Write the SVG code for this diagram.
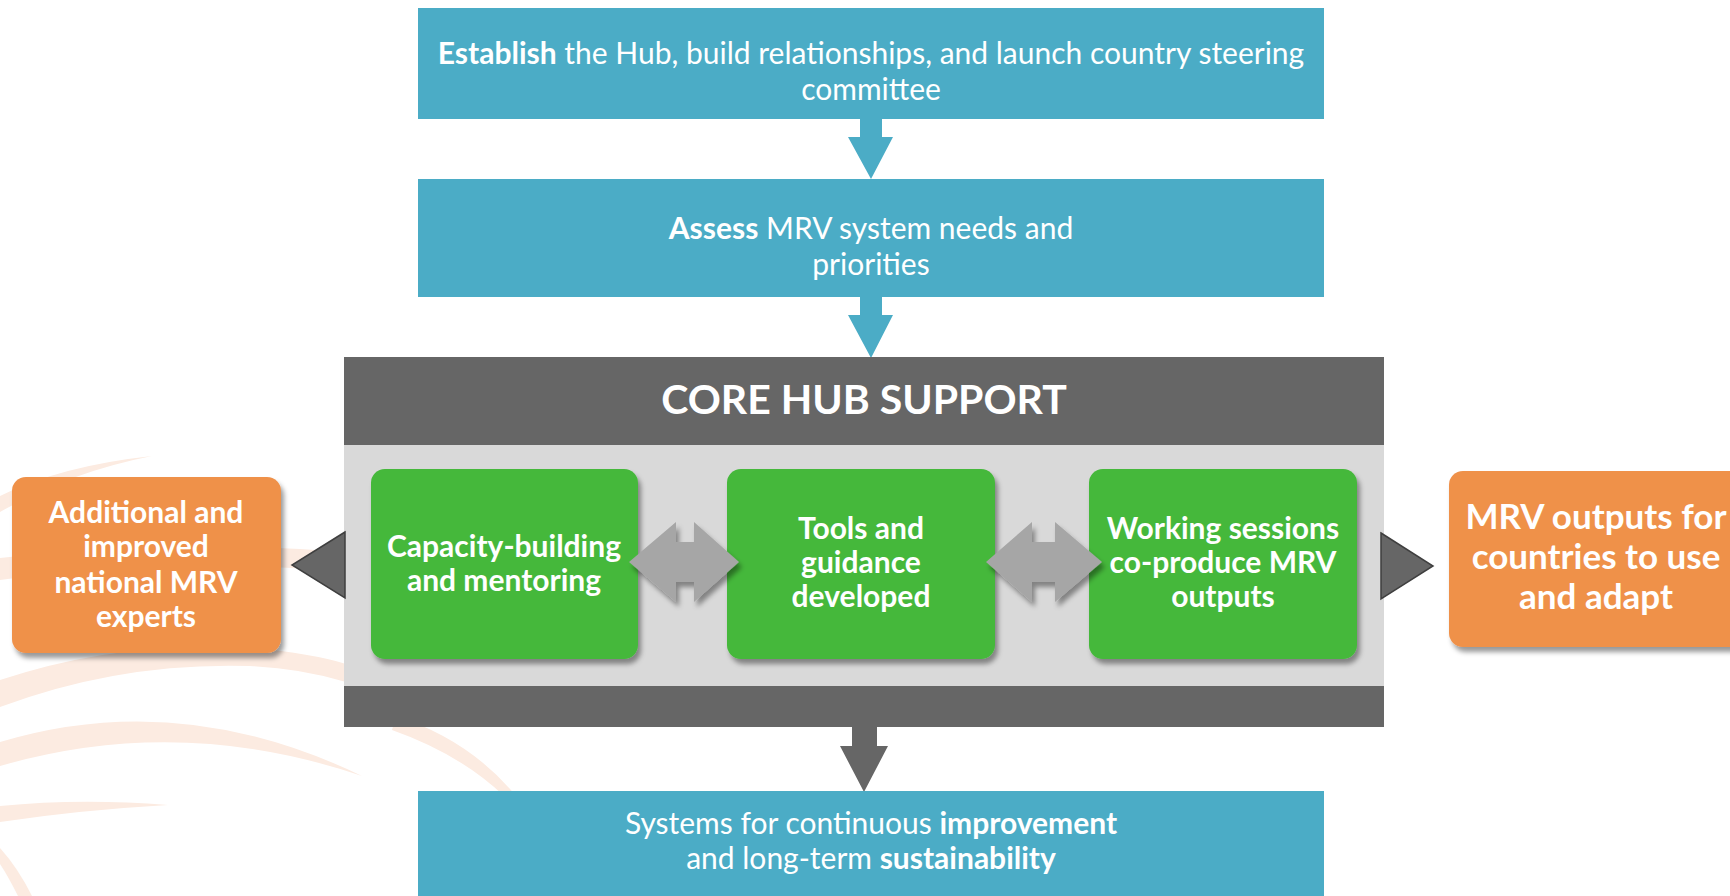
<svg xmlns="http://www.w3.org/2000/svg" width="1730" height="896" viewBox="0 0 1730 896">
<defs>
<style>
.blue{fill:#4bacc6}
.t{font-family:Lato,"Open Sans","Liberation Sans",sans-serif;fill:#fff;text-anchor:middle}
.reg{font-size:30px}
.b{font-weight:bold}
.gt{font-size:30px;font-weight:bold}
.swirl{fill:#fcebe1}
.green{fill:#44b83a}
.orange{fill:#ef914a}
.dbl{fill:#a6a6a6}
.tri{fill:#666;stroke:#3f3f3f;stroke-width:1.5}
</style>
<filter id="sh" x="-10%" y="-10%" width="125%" height="130%">
<feDropShadow dx="3" dy="5" stdDeviation="2.5" flood-color="#000" flood-opacity="0.4"/>
</filter>
</defs>
<rect width="1730" height="896" fill="#fff"/>
<g id="background-swirl">
<path class="swirl" d="M0,496 Q60,466 152,456 Q70,472 0,512 Z"/>
<path class="swirl" d="M0,558 Q170,538 346,552 L346,572 Q170,556 0,580 Z"/>
<path class="swirl" d="M0,680 Q120,640 250,648 Q310,653 346,664 L346,682 Q300,668 250,666 Q120,662 0,707 Z"/>
<path class="swirl" d="M0,742 Q180,688 362,776 Q180,714 0,766 Z"/>
<path class="swirl" d="M0,806 Q80,798 168,805 Q80,810 0,822 Z"/>
<path class="swirl" d="M396,716 Q470,740 516,796 L504,796 Q460,754 392,730 Z"/>
<path class="swirl" d="M0,848 Q18,868 32,896 L18,896 Q8,876 0,864 Z"/>
</g>
<g id="connectors">
<polygon class="blue" points="860,118 882,118 882,137 893,137 871,179 848,137 860,137"/>
<polygon class="blue" points="860,296 882,296 882,315 893,315 871,358 848,315 860,315"/>
<polygon fill="#666" points="852,726 877,726 877,746 888,746 864,792 840,746 852,746"/>
</g>
<g id="establish">
<rect class="blue" x="418" y="8" width="906" height="111"/>
<text class="t reg" x="871" y="64"><tspan class="b">Establish</tspan> the Hub, build relationships, and launch country steering</text>
<text class="t reg" x="871" y="100">committee</text>
</g>
<g id="assess">
<rect class="blue" x="418" y="179" width="906" height="118"/>
<text class="t reg" x="871" y="239"><tspan class="b">Assess</tspan> MRV system needs and</text>
<text class="t reg" x="871" y="275">priorities</text>
</g>
<g id="core-hub-support">
<rect x="344" y="357" width="1040" height="370" fill="#666"/>
<rect x="344" y="445" width="1040" height="241" fill="#d9d9d9"/>
<text class="t b" x="864" y="414" font-size="41">CORE HUB SUPPORT</text>
</g>
<g id="capacity-building">
<rect class="green" x="371" y="469" width="267" height="190" rx="14" filter="url(#sh)"/>
<text class="t gt" x="504" y="557">Capacity-building</text>
<text class="t gt" x="504" y="591">and mentoring</text>
</g>
<g id="tools-guidance">
<rect class="green" x="727" y="469" width="268" height="190" rx="14" filter="url(#sh)"/>
<text class="t gt" x="861" y="539">Tools and</text>
<text class="t gt" x="861" y="573">guidance</text>
<text class="t gt" x="861" y="607">developed</text>
</g>
<g id="working-sessions">
<rect class="green" x="1089" y="469" width="268" height="190" rx="14" filter="url(#sh)"/>
<text class="t gt" x="1223" y="539">Working sessions</text>
<text class="t gt" x="1223" y="573">co-produce MRV</text>
<text class="t gt" x="1223" y="607">outputs</text>
</g>
<g id="inner-connectors">
<polygon class="dbl" filter="url(#sh)" points="629,562 676,522 676,542 694,542 694,522 739,562 694,602 694,582 676,582 676,602"/>
<polygon class="dbl" filter="url(#sh)" points="986,562 1032,522 1032,542 1055,542 1055,522 1102,562 1055,602 1055,582 1032,582 1032,602"/>
<polygon class="tri" points="345,532 292,565 345,598"/>
<polygon class="tri" points="1381,533 1433,566 1381,599"/>
</g>
<g id="national-experts">
<rect class="orange" x="12" y="477" width="269" height="176" rx="14" filter="url(#sh)"/>
<text class="t gt" x="146" y="523">Additional and</text>
<text class="t gt" x="146" y="557">improved</text>
<text class="t gt" x="146" y="593">national MRV</text>
<text class="t gt" x="146" y="627">experts</text>
</g>
<g id="mrv-outputs">
<rect class="orange" x="1449" y="471" width="300" height="176" rx="14" filter="url(#sh)"/>
<text class="t b" x="1596" y="529" font-size="35">MRV outputs for</text>
<text class="t b" x="1596" y="569" font-size="35">countries to use</text>
<text class="t b" x="1596" y="609" font-size="35">and adapt</text>
</g>
<g id="sustainability">
<rect class="blue" x="418" y="791" width="906" height="110"/>
<text class="t reg" x="871" y="834">Systems for continuous <tspan class="b">improvement</tspan></text>
<text class="t reg" x="871" y="869">and long-term <tspan class="b">sustainability</tspan></text>
</g>
</svg>
